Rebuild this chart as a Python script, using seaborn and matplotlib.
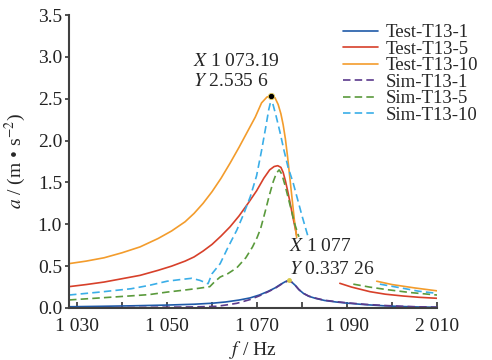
import numpy as np
import matplotlib
matplotlib.use('Agg')
import matplotlib.pyplot as plt
import seaborn as sns

# ── data (nan = gap in the curve) ─────────────────────────────────────────
nan = np.nan
x_t1 = [1028.2, 1035, 1042, 1050, 1056, 1060, 1063, 1066, 1068.4, 1070.5, 1072.5, 1074, 1075.3,
        1076.3, 1077, 1077.7, 1078.5, 1079.3, 1080.3, 1081.5, 1083, 1085, 1087.5, 1090, 1094,
        1098, 1102, 1106, 1110]
y_t1 = [0.015, 0.02, 0.026, 0.035, 0.045, 0.057, 0.072, 0.095, 0.12, 0.155, 0.20, 0.24, 0.285,
        0.315, 0.33, 0.31, 0.27, 0.22, 0.175, 0.14, 0.115, 0.09, 0.072, 0.058, 0.04,
        0.027, 0.018, 0.012, 0.008]

x_t5 = [1028.2, 1032, 1036, 1040, 1044, 1048, 1051, 1054, 1056, 1058, 1060, 1062, 1064, 1066,
        1068, 1069.9, 1071.5, 1072.8, 1073.8, 1074.6, 1075.3, 1075.8, 1076.3, 1076.8, 1077.3,
        1077.8, 1078.3, 1078.8, nan,
        1088.4, 1091, 1095.1, 1098.5, 1102.5, 1106, 1110]
y_t5 = [0.255, 0.28, 0.31, 0.35, 0.39, 0.45, 0.50, 0.56, 0.61, 0.68, 0.76, 0.86, 0.97, 1.10,
        1.25, 1.40, 1.55, 1.65, 1.69, 1.70, 1.68, 1.62, 1.52, 1.40, 1.27,
        1.13, 1.00, 0.87, nan,
        0.295, 0.25, 0.195, 0.165, 0.143, 0.128, 0.116]

x_t10 = [1028.2, 1032, 1036, 1040, 1044, 1048, 1051, 1054, 1056, 1058, 1060, 1062, 1064, 1066,
         1068, 1069.6, 1071, 1072.2, 1073.19, 1074, 1074.7, 1075.3, 1075.8, 1076.3, 1076.8,
         1077.3, 1077.8, 1078.3, 1078.8, nan,
         1096.6, 1100, 1105, 1110]
y_t10 = [0.53, 0.56, 0.60, 0.66, 0.73, 0.83, 0.92, 1.03, 1.13, 1.25, 1.39, 1.55, 1.73, 1.92,
         2.12, 2.28, 2.45, 2.52, 2.5356, 2.51, 2.43, 2.32, 2.19, 2.02, 1.80,
         1.55, 1.30, 1.05, 0.84, nan,
         0.32, 0.28, 0.24, 0.205]

x_s1 = [1028.2, 1035, 1042, 1050, 1056, 1061, 1063, 1065.5, 1068.4, 1070.5, 1072.5, 1074,
        1075.3, 1076.3, 1077, 1077.7, 1078.5, 1079.3, 1080.3, 1081.5, 1083, 1085, 1087.5, 1090,
        1094, 1098, 1102, 1106, 1110]
y_s1 = [0.0, 0.003, 0.006, 0.01, 0.013, 0.02, 0.035, 0.056, 0.10, 0.145, 0.195, 0.235,
        0.28, 0.31, 0.325, 0.31, 0.27, 0.22, 0.175, 0.142, 0.118, 0.093, 0.076, 0.062,
        0.044, 0.031, 0.021, 0.014, 0.01]

x_s5 = [1028.2, 1035, 1042, 1046, 1050, 1054, 1057, 1059.5, 1060.5, 1061.8, 1063.5, 1065.5,
        1067.5, 1069, 1070, 1070.8, 1071.8, 1072.7, 1073.6, 1074.3, 1074.9, 1075.5, 1076.2,
        1077, 1077.7, 1078.4, 1079.3, nan,
        1091.4, 1095, 1098.8, 1104, 1110]
y_s5 = [0.096, 0.12, 0.145, 0.16, 0.19, 0.215, 0.235, 0.255, 0.31, 0.37, 0.41, 0.48,
        0.60, 0.73, 0.84, 0.95, 1.15, 1.34, 1.51, 1.61, 1.65, 1.60, 1.47,
        1.30, 1.15, 1.00, 0.85, nan,
        0.285, 0.25, 0.22, 0.185, 0.155]

x_s10 = [1028.2, 1035, 1042, 1046, 1050, 1053, 1055.5, 1057.3, 1059.1, 1060, 1061.8, 1063.5,
         1065.5, 1067, 1068.5, 1069.9, 1071, 1072, 1072.6, 1073, 1073.5, 1074.2, 1075.1, 1076,
         1076.9, 1078, 1079, 1080, 1081.4, nan,
         1097.3, 1102.5, 1106, 1110]
y_s10 = [0.155, 0.19, 0.23, 0.27, 0.32, 0.34, 0.355, 0.33, 0.29, 0.41, 0.53, 0.72,
         0.93, 1.12, 1.33, 1.58, 1.88, 2.18, 2.37, 2.46, 2.44, 2.30, 2.10, 1.88,
         1.68, 1.50, 1.30, 1.10, 0.84, nan,
         0.285, 0.235, 0.20, 0.175]

labels = ['Test-T13-1', 'Test-T13-5', 'Test-T13-10', 'Sim-T13-1', 'Sim-T13-5', 'Sim-T13-10']
xs = [x_t1, x_t5, x_t10, x_s1, x_s5, x_s10]
ys = [y_t1, y_t5, y_t10, y_s1, y_s5, y_s10]
colors = ['#1f5aa8', '#d7402a', '#f39c2c', '#5b3a8c', '#5a9a3c', '#3aaee8']
dashed = [False, False, False, True, True, True]

peak_hi = (1073.19, 2.5356)
peak_lo = (1077, 0.33726)

xticks = [1030, 1050, 1070, 1090, 1110]
xtick_labels = ['1 030', '1 050', '1 070', '1 090', '2 010']
yticks = [0.0, 0.5, 1.0, 1.5, 2.0, 2.5, 3.0, 3.5]

# ── style ────────────────────────────────────────────────────────────────
sns.set_style('ticks')
plt.rcParams['font.family'] = ['Liberation Serif', 'DejaVu Serif']
plt.rcParams['mathtext.fontset'] = 'stix'
plt.rcParams['font.size'] = 14

fig = plt.figure(figsize=(4.92, 3.6), dpi=100)
ax = fig.add_axes([69 / 492, 52 / 360, 368 / 492, 293 / 360])

for xv, yv, c, d, lab in zip(xs, ys, colors, dashed, labels):
    xv = np.array(xv, dtype=float)
    yv = np.array(yv, dtype=float)
    breaks = np.where(np.isnan(xv))[0]
    segs = np.split(np.arange(len(xv)), breaks)
    ls = (0, (4.5, 2.5)) if d else '-'
    for i, idx in enumerate(segs):
        idx = idx[~np.isnan(xv[idx])]
        sns.lineplot(x=xv[idx], y=yv[idx], color=c, linestyle=ls, lw=1.2, sort=False,
                     label=lab if i == 0 else None, ax=ax, legend=False)

ax.plot(*peak_hi, 'o', ms=4.5, mfc='black', mec='#e8d060', mew=0.6, zorder=5)
ax.plot(*peak_lo, 'o', ms=2.5, mfc='#d8c84a', mec='#d8c84a', zorder=5)

ax.annotate(r'$X$ 1 073.19', xy=peak_hi, xytext=(-78, 34), textcoords='offset pixels',
            ha='left', va='center', fontsize=14)
ax.annotate(r'$Y$ 2.535 6', xy=peak_hi, xytext=(-78, 14), textcoords='offset pixels',
            ha='left', va='center', fontsize=14)
ax.annotate(r'$X$ 1 077', xy=peak_lo, xytext=(0, 33), textcoords='offset pixels',
            ha='left', va='center', fontsize=14)
ax.annotate(r'$Y$ 0.337 26', xy=peak_lo, xytext=(0, 10), textcoords='offset pixels',
            ha='left', va='center', fontsize=14)

ax.set_xlim(1028.2, 1110)
ax.set_ylim(0, 3.5)
ax.set_xticks(xticks)
ax.set_xticklabels(xtick_labels)
ax.set_xticks([1040, 1060, 1080, 1100], minor=True)
ax.set_yticks(yticks)
ax.set_yticklabels([f'{v:.1f}' for v in yticks])
ax.tick_params(axis='x', which='both', direction='in', length=4, width=1.2, pad=7,
               labelsize=14, colors='#333333', labelcolor='#222222')
ax.tick_params(axis='y', direction='out', length=3, width=1.2, pad=2,
               labelsize=14, colors='#333333', labelcolor='#222222')

ax.set_xlabel(r'$f$ / Hz', fontsize=14)
ax.set_ylabel(r'$a$ / (m • s$^{-2}$)', fontsize=14)
ax.xaxis.set_label_coords(0.5, -0.105)
ax.yaxis.set_label_coords(-0.112, 0.5)

sns.despine(ax=ax)
for s in ['left', 'bottom']:
    ax.spines[s].set_linewidth(1.5)
    ax.spines[s].set_color('#404040')

ax.legend(loc='upper left', bbox_to_anchor=(343 / 492, 1 - 24 / 360),
          bbox_transform=fig.transFigure, frameon=False, fontsize=13.5,
          handlelength=1.85, handletextpad=0.45, labelspacing=-0.03,
          borderpad=0, borderaxespad=0)

fig.savefig('out.png', dpi=100)
